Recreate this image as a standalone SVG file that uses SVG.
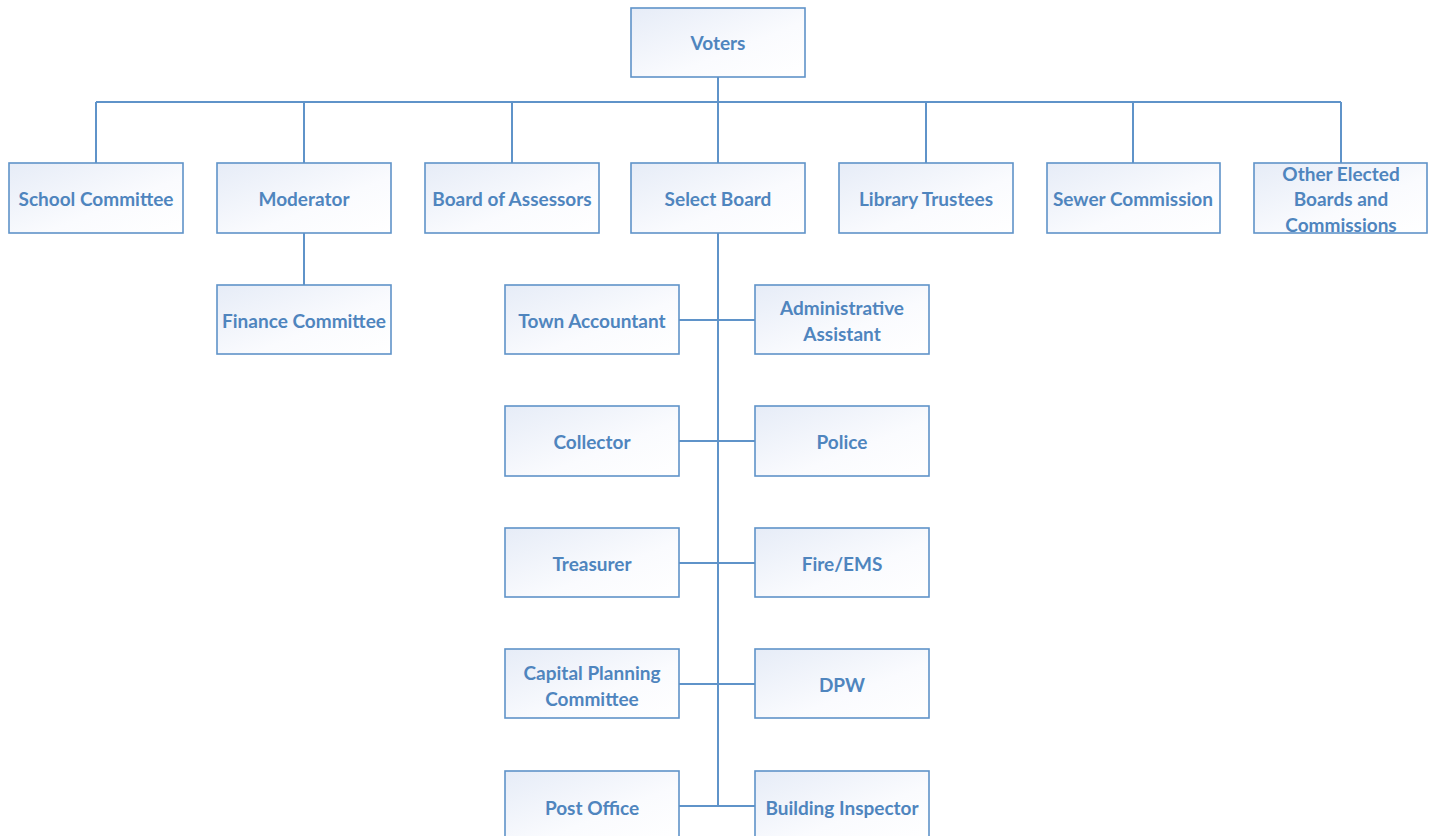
<svg xmlns="http://www.w3.org/2000/svg" width="1432" height="836" viewBox="0 0 1432 836">
<defs>
<linearGradient id="g" x1="0" y1="0" x2="1" y2="1">
<stop offset="0" stop-color="#E6ECF7"/>
<stop offset="0.6" stop-color="#FAFBFE"/>
<stop offset="1" stop-color="#FFFFFF"/>
</linearGradient>
<style>
.box{fill:url(#g);stroke:#5F93C9;stroke-width:1.6}
.t{font-family:Lato,"Open Sans",sans-serif;font-weight:bold;font-size:19px;fill:#4F85BE;text-anchor:middle;dominant-baseline:central}
.c{fill:none;stroke:#5F93C9;stroke-width:2}
</style>
</defs>
<rect width="1432" height="836" fill="#FFFFFF"/>
<g id="connectors">
<path class="c" d="M718 77V102M96 102H1341M96 102V163M304 102V163M512 102V163M718 102V163M926 102V163M1133 102V163M1341 102V163"/>
<path class="c" d="M304 233V285"/>
<path class="c" d="M718 233V806M679 320H755M679 441H755M679 563H755M679 684H755M679 806H755"/>
</g>
<g id="voters"><rect class="box" x="631" y="8" width="174" height="69"/><text class="t" x="718" y="42">Voters</text></g>
<g id="school-committee"><rect class="box" x="9" y="163" width="174" height="70"/><text class="t" x="96" y="198">School Committee</text></g>
<g id="moderator"><rect class="box" x="217" y="163" width="174" height="70"/><text class="t" x="304" y="198">Moderator</text></g>
<g id="board-of-assessors"><rect class="box" x="425" y="163" width="174" height="70"/><text class="t" x="512" y="198">Board of Assessors</text></g>
<g id="select-board"><rect class="box" x="631" y="163" width="174" height="70"/><text class="t" x="718" y="198">Select Board</text></g>
<g id="library-trustees"><rect class="box" x="839" y="163" width="174" height="70"/><text class="t" x="926" y="198">Library Trustees</text></g>
<g id="sewer-commission"><rect class="box" x="1047" y="163" width="173" height="70"/><text class="t" x="1133" y="198">Sewer Commission</text></g>
<g id="other-elected"><rect class="box" x="1254" y="163" width="173" height="70"/><text class="t" x="1341" y="173">Other Elected</text><text class="t" x="1341" y="198">Boards and</text><text class="t" x="1341" y="224">Commissions</text></g>
<g id="finance-committee"><rect class="box" x="217" y="285" width="174" height="69"/><text class="t" x="304" y="320">Finance Committee</text></g>
<g id="town-accountant"><rect class="box" x="505" y="285" width="174" height="69"/><text class="t" x="592" y="320">Town Accountant</text></g>
<g id="administrative-assistant"><rect class="box" x="755" y="285" width="174" height="69"/><text class="t" x="842" y="307">Administrative</text><text class="t" x="842" y="333">Assistant</text></g>
<g id="collector"><rect class="box" x="505" y="406" width="174" height="70"/><text class="t" x="592" y="441">Collector</text></g>
<g id="police"><rect class="box" x="755" y="406" width="174" height="70"/><text class="t" x="842" y="441">Police</text></g>
<g id="treasurer"><rect class="box" x="505" y="528" width="174" height="69"/><text class="t" x="592" y="563">Treasurer</text></g>
<g id="fire-ems"><rect class="box" x="755" y="528" width="174" height="69"/><text class="t" x="842" y="563">Fire/EMS</text></g>
<g id="capital-planning"><rect class="box" x="505" y="649" width="174" height="69"/><text class="t" x="592" y="672">Capital Planning</text><text class="t" x="592" y="698">Committee</text></g>
<g id="dpw"><rect class="box" x="755" y="649" width="174" height="69"/><text class="t" x="842" y="684">DPW</text></g>
<g id="post-office"><rect class="box" x="505" y="771" width="174" height="70"/><text class="t" x="592" y="807">Post Office</text></g>
<g id="building-inspector"><rect class="box" x="755" y="771" width="174" height="70"/><text class="t" x="842" y="807">Building Inspector</text></g>
</svg>
